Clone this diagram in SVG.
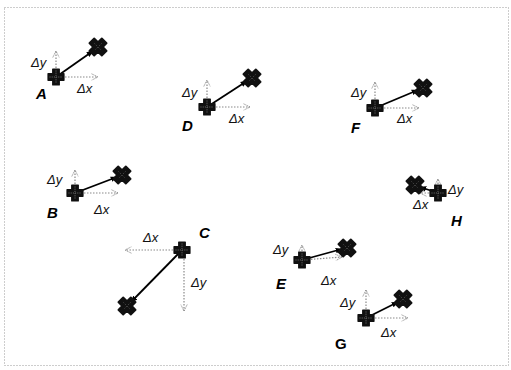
<svg xmlns="http://www.w3.org/2000/svg" width="511" height="370" viewBox="0 0 511 370">
<style>
.frame{fill:none;stroke:#9a9a9a;stroke-width:1;stroke-dasharray:1 2}
.move{stroke:#000;stroke-width:1.8;fill:none}
.dx{stroke:#8a8a8a;stroke-width:1.2;stroke-dasharray:1.5 1.5;fill:none}
.lbl{font-family:"Liberation Sans",Arial,sans-serif;font-style:italic;font-size:13px;fill:#111}
.name{font-family:"Liberation Sans",Arial,sans-serif;font-style:italic;font-weight:bold;font-size:15px;fill:#000}
</style>
<defs>
<marker id="open" viewBox="0 0 10 10" refX="9" refY="5" markerWidth="8" markerHeight="8" orient="auto" markerUnits="userSpaceOnUse">
<path d="M1,1 L9,5 L1,9" fill="none" stroke="#8a8a8a" stroke-width="1.2" stroke-dasharray="1.5 1"/>
</marker>
<marker id="solid" viewBox="0 0 10 10" refX="9" refY="5" markerWidth="7" markerHeight="7" orient="auto" markerUnits="userSpaceOnUse">
<path d="M0,1 L10,5 L0,9 Z" fill="#000"/>
</marker>
<g id="plus">
<path d="M-3.3,-8 H3.3 V-3.3 H8 V3.3 H3.3 V8 H-3.3 V3.3 H-8 V-3.3 H-3.3 Z" fill="#111" stroke="#111" stroke-width="1.2" stroke-linejoin="round"/>
<path d="M-6.5,0 H6.5 M0,-6.5 V6.5" stroke="#888" stroke-width="0.8" stroke-dasharray="1 1.2"/>
</g>
<g id="cross">
<g transform="rotate(45)">
<path d="M-3.4,-8.8 H3.4 V-3.4 H8.8 V3.4 H3.4 V8.8 H-3.4 V3.4 H-8.8 V-3.4 H-3.4 Z" fill="#111" stroke="#111" stroke-width="1.8" stroke-linejoin="round"/>
<path d="M-5,0 H5 M0,-5 V5" stroke="#666" stroke-width="0.7" stroke-dasharray="1 1.5"/>
</g>
</g>
</defs>
<rect class="frame" x="4.5" y="7.5" width="504" height="358"/>

<g id="connectors">
<line class="dx" x1="56" y1="77" x2="98" y2="77" marker-end="url(#open)"/>
<line class="dx" x1="56" y1="77" x2="56" y2="51" marker-end="url(#open)"/>
<line class="move" x1="56" y1="77" x2="93" y2="51" marker-end="url(#solid)"/>

<line class="dx" x1="207" y1="107" x2="250" y2="107" marker-end="url(#open)"/>
<line class="dx" x1="207" y1="107" x2="207" y2="80" marker-end="url(#open)"/>
<line class="move" x1="207" y1="107" x2="247" y2="81" marker-end="url(#solid)"/>

<line class="dx" x1="375" y1="108" x2="419" y2="108" marker-end="url(#open)"/>
<line class="dx" x1="375" y1="108" x2="375" y2="82" marker-end="url(#open)"/>
<line class="move" x1="375" y1="108" x2="418" y2="90" marker-end="url(#solid)"/>

<line class="dx" x1="75" y1="193" x2="118" y2="193" marker-end="url(#open)"/>
<line class="dx" x1="75" y1="193" x2="75" y2="170" marker-end="url(#open)"/>
<line class="move" x1="75" y1="193" x2="117" y2="177" marker-end="url(#solid)"/>

<line class="dx" x1="182" y1="250" x2="125" y2="250" marker-end="url(#open)"/>
<line class="dx" x1="184" y1="250" x2="184" y2="311" marker-end="url(#open)"/>
<line class="move" x1="182" y1="250" x2="131" y2="302" marker-end="url(#solid)"/>

<line class="dx" x1="302" y1="260" x2="342" y2="257" marker-end="url(#open)"/>
<line class="dx" x1="302" y1="260" x2="302" y2="245" marker-end="url(#open)"/>
<line class="move" x1="302" y1="260" x2="342" y2="249" marker-end="url(#solid)"/>

<line class="dx" x1="366" y1="318" x2="408" y2="318" marker-end="url(#open)"/>
<line class="dx" x1="366" y1="318" x2="366" y2="290" marker-end="url(#open)"/>
<line class="move" x1="366" y1="318" x2="398" y2="302" marker-end="url(#solid)"/>

<line class="dx" x1="438" y1="193" x2="420" y2="193" marker-end="url(#open)"/>
<line class="dx" x1="438" y1="193" x2="438" y2="179" marker-end="url(#open)"/>
<line class="move" x1="438" y1="193" x2="420" y2="187" marker-end="url(#solid)"/>
</g>

<g id="A"><use href="#plus" x="56" y="77"/><use href="#cross" x="98" y="47"/>
<text class="lbl" x="31" y="67">Δy</text><text class="lbl" x="77" y="93">Δx</text><text class="name" x="36" y="99">A</text></g>
<g id="D"><use href="#plus" x="207" y="107"/><use href="#cross" x="252" y="78"/>
<text class="lbl" x="182" y="97">Δy</text><text class="lbl" x="229" y="123">Δx</text><text class="name" x="182" y="131">D</text></g>
<g id="F"><use href="#plus" x="375" y="108"/><use href="#cross" x="423" y="88"/>
<text class="lbl" x="351" y="97">Δy</text><text class="lbl" x="397" y="123">Δx</text><text class="name" x="351" y="133">F</text></g>
<g id="B"><use href="#plus" x="75" y="193"/><use href="#cross" x="122" y="175"/>
<text class="lbl" x="47" y="184">Δy</text><text class="lbl" x="94" y="214">Δx</text><text class="name" x="47" y="218">B</text></g>
<g id="C"><use href="#plus" x="182" y="250"/><use href="#cross" x="127" y="306"/>
<text class="lbl" x="143" y="242">Δx</text><text class="lbl" x="191" y="287">Δy</text><text class="name" x="199" y="238">C</text></g>
<g id="E"><use href="#plus" x="302" y="260"/><use href="#cross" x="347" y="248"/>
<text class="lbl" x="273" y="254">Δy</text><text class="lbl" x="321" y="285">Δx</text><text class="name" x="276" y="289">E</text></g>
<g id="G"><use href="#plus" x="366" y="318"/><use href="#cross" x="403" y="299"/>
<text class="lbl" x="340" y="307">Δy</text><text class="lbl" x="381" y="337">Δx</text><text class="name" x="335" y="349" style="font-style:normal">G</text></g>
<g id="H"><use href="#cross" x="415" y="185"/><use href="#plus" x="438" y="193"/>
<text class="lbl" x="448" y="194">Δy</text><text class="lbl" x="413" y="209">Δx</text><text class="name" x="451" y="226">H</text></g>
</svg>
